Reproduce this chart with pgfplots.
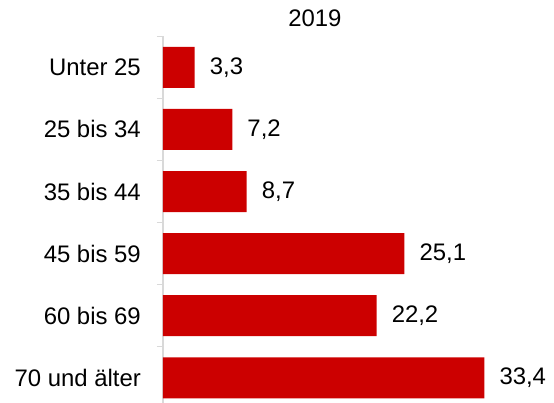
\documentclass[border=0pt]{standalone}
\usepackage{fontspec}
\setmainfont{Liberation Sans}
\usepackage{pgfplots}
\pgfplotsset{compat=1.18}
\usetikzlibrary{calc}
\definecolor{barred}{HTML}{CC0000}
\definecolor{axisgray}{HTML}{D9D9D9}
\newcommand{\lbl}{\fontsize{23.9bp}{28bp}\selectfont}

\begin{document}
\begin{tikzpicture}
\begin{axis}[
    name=ax,
    scale only axis,
    width=336.7bp,
    height=372.5bp,
    xbar,
    xmin=0, xmax=35,
    ymin=-0.5, ymax=5.5,
    y dir=reverse,
    axis x line=none,
    axis y line*=left,
    axis line style={draw=axisgray,line width=2bp},
    ytick={0,1,2,3,4,5},
    yticklabels={Unter 25,25 bis 34,35 bis 44,45 bis 59,60 bis 69,70 und älter},
    major tick length=0pt,
    minor ytick={-0.5,0.5,1.5,2.5,3.5,4.5,5.5},
    minor tick length=6bp,
    tick align=outside,
    minor tick style={draw=axisgray,line width=1.5bp},
    yticklabel style={font=\lbl,text=black,anchor=east,inner sep=0pt,xshift=-22bp},
    bar width=41bp,
    point meta=explicit symbolic,
    nodes near coords={\pgfplotspointmeta},
    every node near coord/.append style={font=\lbl,text=black,anchor=west,inner sep=0pt,xshift=15bp},
    title={2019},
    title style={font=\lbl,at={(rel axis cs:0.451,1)},anchor=base,inner sep=0pt,yshift=4.3bp},
    clip=false,
]
\addplot[draw=none,fill=barred] coordinates {
    (3.3,0) [3,3]
    (7.2,1) [7,2]
    (8.7,2) [8,7]
    (25.1,3) [25,1]
    (22.2,4) [22,2]
    (33.4,5) [33,4]
};
\end{axis}
\pgfresetboundingbox
\path[use as bounding box] ($(ax.south west)+(-163bp,5.8bp)$) rectangle ($(ax.north east)+(54.3bp,36.3bp)$);
\end{tikzpicture}
\end{document}
